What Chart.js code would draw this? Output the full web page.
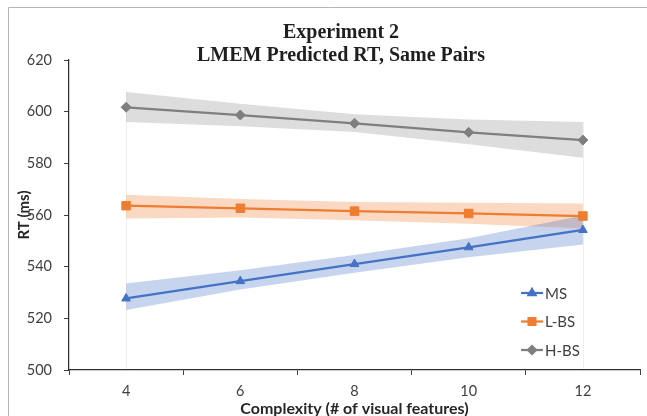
<!DOCTYPE html>
<html>
<head>
<meta charset="utf-8">
<script src="https://cdn.jsdelivr.net/npm/chart.js@4/dist/chart.umd.min.js"></script>
<style>
  html, body { margin: 0; padding: 0; background: #ffffff; }
  canvas { display: block; }
</style>
</head>
<body>
<canvas id="rt" width="647" height="416"></canvas>
<script>
// Complexity levels (number of visual features)
const complexity = ['4', '6', '8', '10', '12'];

// Predicted RT (ms) per condition
const msRT  = [527.7, 534.4, 541.0, 547.5, 554.2];
const lbsRT = [563.6, 562.6, 561.5, 560.6, 559.6];
const hbsRT = [601.7, 598.7, 595.5, 592.0, 589.0];

// Confidence band limits
const msUpper  = [533.5, 538.6, 544.5, 551.0, 559.8];
const msLower  = [523.2, 531.2, 537.6, 543.6, 548.6];
const lbsUpper = [567.8, 566.2, 565.0, 564.7, 564.5];
const lbsLower = [558.6, 559.0, 558.0, 556.6, 554.8];
const hbsUpper = [607.6, 603.1, 599.0, 597.0, 596.0];
const hbsLower = [596.0, 594.4, 592.1, 587.4, 582.2];

// Y axis range
const yMin = 500, yMax = 620, yStep = 20;

const titleLines = ['Experiment 2', 'LMEM Predicted RT, Same Pairs'];

const BLUE = '#4472C4', ORANGE = '#ED7D31', GREY = '#7F7F7F';
const TICK_FONT = { family: 'Lato, "Open Sans", sans-serif', size: 14.5 };

function seriesLine(label, data, color, style, radius) {
  return {
    label, data, borderColor: color, backgroundColor: color,
    borderWidth: 2.25, pointStyle: style, pointRadius: radius,
    pointBorderWidth: 1, pointBorderColor: color, pointBackgroundColor: color,
    fill: false, tension: 0, order: 0, isSeries: true
  };
}
function bandEdge(label, data, color, fillTarget) {
  return {
    label, data, borderColor: 'transparent', borderWidth: 0,
    backgroundColor: color, pointRadius: 0, pointHoverRadius: 0,
    fill: fillTarget, tension: 0, order: 1, isSeries: false
  };
}

// Outer frame of the chart
const framePlugin = {
  id: 'frame',
  beforeDraw(chart) {
    const ctx = chart.ctx;
    ctx.save();
    ctx.strokeStyle = '#b4b4b4';
    ctx.lineWidth = 1;
    ctx.beginPath();
    ctx.moveTo(8.5, chart.height + 2);
    ctx.lineTo(8.5, 7.5);
    ctx.lineTo(chart.width + 2, 7.5);
    ctx.stroke();

    // faint drop lines at the first and last category
    const x = chart.scales.x, y = chart.scales.y;
    ctx.strokeStyle = 'rgba(235, 222, 218, 0.55)';
    [0, complexity.length - 1].forEach(i => {
      const px = Math.round(x.getPixelForValue(i)) + 0.5;
      ctx.beginPath();
      ctx.moveTo(px, y.getPixelForValue(hbsUpper[i]));
      ctx.lineTo(px, chart.chartArea.bottom);
      ctx.stroke();
    });
    ctx.restore();
  }
};

// Two-line chart heading
const headingPlugin = {
  id: 'heading',
  afterDraw(chart) {
    const ctx = chart.ctx;
    ctx.save();
    ctx.fillStyle = '#1f1f1f';
    ctx.font = 'bold 20px "Liberation Serif", "DejaVu Serif", serif';
    ctx.textAlign = 'center';
    ctx.textBaseline = 'middle';
    ctx.fillText(titleLines[0], 341, 33);
    ctx.fillText(titleLines[1], 341, 56);
    ctx.restore();
  }
};

// Legend drawn inside the plot area, lower right
const legendPlugin = {
  id: 'insideLegend',
  afterDraw(chart) {
    const ctx = chart.ctx;
    const series = chart.data.datasets.filter(d => d.isSeries);
    const x0 = 521, x1 = 543, yStart = 293, gap = 28.5;
    ctx.save();
    series.forEach((ds, i) => {
      const yy = yStart + i * gap;
      ctx.strokeStyle = ds.borderColor;
      ctx.lineWidth = 2.25;
      ctx.beginPath();
      ctx.moveTo(x0, yy);
      ctx.lineTo(x1, yy);
      ctx.stroke();
      ctx.fillStyle = ds.borderColor;
      Chart.helpers.drawPoint(ctx, {
        pointStyle: ds.pointStyle, radius: ds.pointRadius * 0.8,
        borderWidth: 1, rotation: 0
      }, (x0 + x1) / 2, yy);
      ctx.fillStyle = '#404040';
      ctx.font = '15px Lato, "Open Sans", sans-serif';
      ctx.textAlign = 'left';
      ctx.textBaseline = 'middle';
      ctx.fillText(ds.label, x1 + 2, yy + 1);
    });
    ctx.restore();
  }
};

new Chart(document.getElementById('rt'), {
  type: 'line',
  data: {
    labels: complexity,
    datasets: [
      seriesLine('MS', msRT, BLUE, 'triangle', 5),
      seriesLine('L-BS', lbsRT, ORANGE, 'rect', 6),
      seriesLine('H-BS', hbsRT, GREY, 'rectRot', 5),
      bandEdge('MS upper', msUpper, 'rgba(68, 114, 196, 0.30)', false),
      bandEdge('MS lower', msLower, 'rgba(68, 114, 196, 0.30)', '-1'),
      bandEdge('L-BS upper', lbsUpper, 'rgba(237, 125, 49, 0.30)', false),
      bandEdge('L-BS lower', lbsLower, 'rgba(237, 125, 49, 0.30)', '-1'),
      bandEdge('H-BS upper', hbsUpper, 'rgba(165, 165, 165, 0.38)', false),
      bandEdge('H-BS lower', hbsLower, 'rgba(165, 165, 165, 0.38)', '-1')
    ]
  },
  options: {
    responsive: false,
    animation: false,
    devicePixelRatio: 1,
    layout: { padding: { left: 0, right: 4, top: 60, bottom: 0 } },
    plugins: {
      legend: { display: false },
      title: { display: false },
      tooltip: { enabled: false },
      filler: { drawTime: 'beforeDatasetsDraw', propagate: false }
    },
    scales: {
      x: {
        type: 'category',
        offset: true,
        grid: {
          offset: true, drawOnChartArea: false, drawTicks: true,
          tickLength: 5, color: '#404040', lineWidth: 1
        },
        border: { display: true, color: '#303030', width: 1.25 },
        ticks: { color: '#404040', font: TICK_FONT, padding: 8, maxRotation: 0 },
        title: {
          display: true, text: 'Complexity (# of visual features)',
          color: '#262626',
          font: { family: 'Lato, "Open Sans", sans-serif', size: 16, weight: 'bold', lineHeight: 1 },
          padding: { top: 0, bottom: -1 }
        },
        afterFit(scale) { scale.height = 46; }
      },
      y: {
        min: yMin, max: yMax,
        grid: {
          drawOnChartArea: false, drawTicks: true,
          tickLength: 5, color: '#404040', lineWidth: 1
        },
        border: { display: true, color: '#303030', width: 1.25 },
        ticks: { stepSize: yStep, color: '#404040', font: TICK_FONT, padding: 12 },
        title: {
          display: true, text: 'RT (ms)', color: '#262626',
          font: { family: 'Lato, "Open Sans", sans-serif', size: 15, weight: 'bold', lineHeight: 1 },
          padding: { top: 16.5, bottom: 0 }
        },
        afterFit(scale) { scale.width = 69; }
      }
    }
  },
  plugins: [framePlugin, headingPlugin, legendPlugin]
});
</script>
</body>
</html>
